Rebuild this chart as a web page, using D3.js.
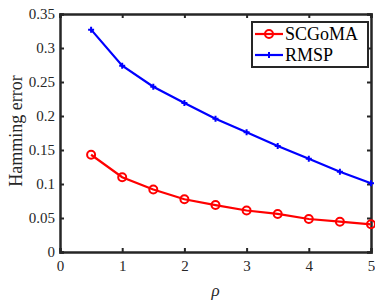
<!DOCTYPE html>
<html>
<head>
<meta charset="utf-8">
<script src="https://cdn.jsdelivr.net/npm/d3@7"></script>
<style>
  body { margin: 0; background: #fff; }
  text { font-family: "Liberation Serif", "Times New Roman", serif; }
</style>
</head>
<body>
<svg id="chart"></svg>
<script>
const rho = [0.5, 1, 1.5, 2, 2.5, 3, 3.5, 4, 4.5, 5];
const scgoma = [0.143, 0.110, 0.092, 0.0775, 0.069, 0.061, 0.056, 0.0485, 0.0446, 0.0407];
const rmsp = [0.327, 0.274, 0.243, 0.219, 0.196, 0.176, 0.156, 0.137, 0.118, 0.101];
const xTicks = [0, 1, 2, 3, 4, 5];
const yTicks = [0, 0.05, 0.1, 0.15, 0.2, 0.25, 0.3, 0.35];

const width = 375;
const height = 302;
const margin = { top: 14, right: 4, bottom: 50, left: 60 };
const chartWidth = width - margin.left - margin.right;
const chartHeight = height - margin.top - margin.bottom;

const svg = d3.select("#chart")
    .attr("width", width)
    .attr("height", height);

const chart = svg.append("g")
    .attr("transform", `translate(${margin.left},${margin.top})`);

const x = d3.scaleLinear().domain([0, 5]).range([0, chartWidth]);
const y = d3.scaleLinear().domain([0, 0.35]).range([chartHeight, 0]);

const axisColor = "#262626";

// axes (ticks pointing inward)
const fmt = d => d === 0 ? "0" : String(+d.toFixed(2));
const xAxis = chart.append("g")
    .attr("transform", `translate(0,${chartHeight})`)
    .call(d3.axisBottom(x).tickValues(xTicks).tickSize(-4).tickPadding(8).tickFormat(fmt));
const yAxis = chart.append("g")
    .call(d3.axisLeft(y).tickValues(yTicks).tickSize(-4).tickPadding(5).tickFormat(fmt));
const xTop = chart.append("g")
    .call(d3.axisTop(x).tickValues(xTicks).tickSize(-4).tickFormat(""));
const yRight = chart.append("g")
    .attr("transform", `translate(${chartWidth},0)`)
    .call(d3.axisRight(y).tickValues(yTicks).tickSize(-4).tickFormat(""));

[xAxis, yAxis, xTop, yRight].forEach(g => {
    g.select(".domain").attr("stroke", axisColor).attr("stroke-width", 2.5);
    g.selectAll(".tick line").attr("stroke", axisColor).attr("stroke-width", 2);
    g.selectAll(".tick text")
        .attr("fill", "#262626")
        .style("font-family", "Liberation Serif, serif")
        .style("font-size", "15px");
});

// axis labels
chart.append("text")
    .attr("x", chartWidth / 2)
    .attr("y", chartHeight + 44)
    .attr("text-anchor", "middle")
    .style("font-size", "17px")
    .style("font-style", "italic")
    .attr("fill", "#262626")
    .text("ρ");

chart.append("text")
    .attr("transform", "rotate(-90)")
    .attr("x", -chartHeight / 2 + 2)
    .attr("y", -38)
    .attr("text-anchor", "middle")
    .style("font-size", "18px")
    .attr("fill", "#262626")
    .text("Hamming error");

// lines
const series = [
    { name: "SCGoMA", values: scgoma, color: "#ff0000", marker: "circle" },
    { name: "RMSP", values: rmsp, color: "#0000ff", marker: "plus" }
];

const line = d3.line()
    .x(d => x(d[0]))
    .y(d => y(d[1]));

function drawMarker(g, cx, cy, s) {
    if (s.marker === "circle") {
        g.append("circle")
            .attr("cx", cx).attr("cy", cy).attr("r", 4)
            .attr("fill", "none")
            .attr("stroke", s.color)
            .attr("stroke-width", 2);
    } else {
        g.append("path")
            .attr("d", `M${cx - 3},${cy}H${cx + 3}M${cx},${cy - 3}V${cy + 3}`)
            .attr("stroke", s.color)
            .attr("stroke-width", 2);
    }
}

series.forEach(s => {
    const pts = rho.map((r, i) => [r, s.values[i]]);
    chart.append("path")
        .datum(pts)
        .attr("fill", "none")
        .attr("stroke", s.color)
        .attr("stroke-width", 2.2)
        .attr("d", line);
    pts.forEach(p => drawMarker(chart, x(p[0]), y(p[1]), s));
});

// legend
const legend = svg.append("g").attr("transform", "translate(252,22)");
legend.append("rect")
    .attr("width", 116).attr("height", 45)
    .attr("fill", "#fff")
    .attr("stroke", axisColor)
    .attr("stroke-width", 2);

series.forEach((s, i) => {
    const ly = 12 + i * 21;
    legend.append("line")
        .attr("x1", 3).attr("x2", 31)
        .attr("y1", ly).attr("y2", ly)
        .attr("stroke", s.color)
        .attr("stroke-width", 2.2);
    drawMarker(legend, 17, ly, s);
    legend.append("text")
        .attr("x", 33)
        .attr("y", ly + 6)
        .style("font-size", "18px")
        .attr("fill", "#000")
        .text(s.name);
});
</script>
</body>
</html>
